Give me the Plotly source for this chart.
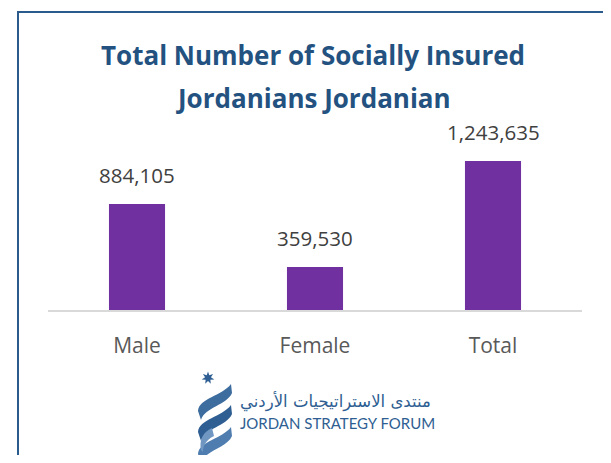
import math
import plotly.graph_objects as go

categories = ["Male", "Female", "Total"]
values = [884105, 359530, 1243635]
value_labels = ["884,105", "359,530", "1,243,635"]

title_lines = ["Total Number of Socially Insured", "Jordanians Jordanian"]
logo_ar = "منتدى الاستراتيجيات الأردني"
logo_en = "JORDAN STRATEGY FORUM"

OFF = 8  # page body margin
W, H = 611 - OFF, 463 - 2 * OFF
# plot area in reference pixels: x 48..582, y 120..310
L, T = 48 - OFF, 120 - OFF
R, B = W - (582 - OFF), H - (310 - OFF)
PW, PH = W - L - R, H - T - B

def px(x):
    return (x - OFF - L) / PW

def py(y):
    return (H - B - (y - OFF)) / PH

fig = go.Figure()
fig.add_trace(go.Bar(
    x=categories, y=values,
    marker=dict(color="#7030a0", line=dict(width=0)),
    hoverinfo="skip",
))

for c, v, t in zip(categories, values, value_labels):
    fig.add_annotation(x=c, y=v, text=t, showarrow=False, yanchor="bottom",
                       yshift=13, font=dict(family="Open Sans", size=20.5, color="#404040"))

blue = "#235281"
logo_blue = "#2e5e92"
shapes = []
shapes.append(dict(type="rect", xref="paper", yref="paper",
                   x0=px(18), x1=px(608.5), y0=py(480), y1=py(12),
                   line=dict(color="#2b5a8c", width=2), layer="above"))

def ribbon(y0, col):
    p = (f"M {px(198)} {py(y0+27)} "
         f"C {px(199)} {py(y0+14)}, {px(222)} {py(y0+12)}, {px(231)} {py(y0)} "
         f"L {px(232)} {py(y0+9)} "
         f"C {px(227)} {py(y0+21)}, {px(205)} {py(y0+23)}, {px(201)} {py(y0+36)} Z")
    return dict(type="path", xref="paper", yref="paper", path=p,
                fillcolor=col, line=dict(width=0))

shapes.append(ribbon(384, "#3d6c9e"))
shapes.append(ribbon(405, "#2f5f92"))
shapes.append(ribbon(427, "#4f7db0"))
shapes.append(dict(type="path", xref="paper", yref="paper",
                   path=(f"M {px(201)} {py(450)} C {px(199)} {py(440)}, {px(203)} {py(432)}, {px(212)} {py(428)} "
                         f"L {px(214)} {py(436)} C {px(206)} {py(440)}, {px(203)} {py(446)}, {px(203)} {py(452)} Z"),
                   fillcolor="#6f97c2", line=dict(width=0)))

cx, cy, ro, ri = 208, 378, 6.5, 3.0
pts = []
for k in range(14):
    a = math.pi / 2 + k * math.pi / 7
    r = ro if k % 2 == 0 else ri
    pts.append((px(cx + r * math.cos(a)), py(cy - r * math.sin(a))))
star = "M " + " L ".join(f"{x} {y}" for x, y in pts) + " Z"
shapes.append(dict(type="path", xref="paper", yref="paper", path=star,
                   fillcolor="#2e5e92", line=dict(width=0)))
fig.update_layout(shapes=shapes)

fig.add_annotation(xref="paper", yref="paper", x=px(433), y=py(401), text=logo_ar,
                   showarrow=False, xanchor="right", yanchor="middle",
                   font=dict(family="DejaVu Sans", size=16.5, color=logo_blue))
fig.add_annotation(xref="paper", yref="paper", x=px(238), y=py(423), text=logo_en,
                   showarrow=False, xanchor="left", yanchor="middle",
                   font=dict(family="Lato", size=15, color=logo_blue))

fig.add_annotation(xref="paper", yref="paper", x=px(313), y=py(55), text=title_lines[0],
                   showarrow=False, xanchor="center", yanchor="middle",
                   font=dict(family="Open Sans", size=26, color=blue, weight="bold"))
fig.add_annotation(xref="paper", yref="paper", x=px(313), y=py(98), text=title_lines[1],
                   showarrow=False, xanchor="center", yanchor="middle",
                   font=dict(family="Open Sans", size=26, color=blue, weight="bold"))

fig.update_layout(
    width=W, height=H,
    margin=dict(l=L, r=R, t=T, b=B),
    paper_bgcolor="white", plot_bgcolor="white",
    bargap=0.685,
    showlegend=False,
    xaxis=dict(showline=True, linecolor="#d9d9d9", linewidth=2, ticks="",
               showgrid=False, ticklabelstandoff=16,
               tickfont=dict(family="Open Sans", size=21, color="#595959")),
    yaxis=dict(range=[0, 1585000], visible=False, showgrid=False),
)
fig.write_html("out.html")
